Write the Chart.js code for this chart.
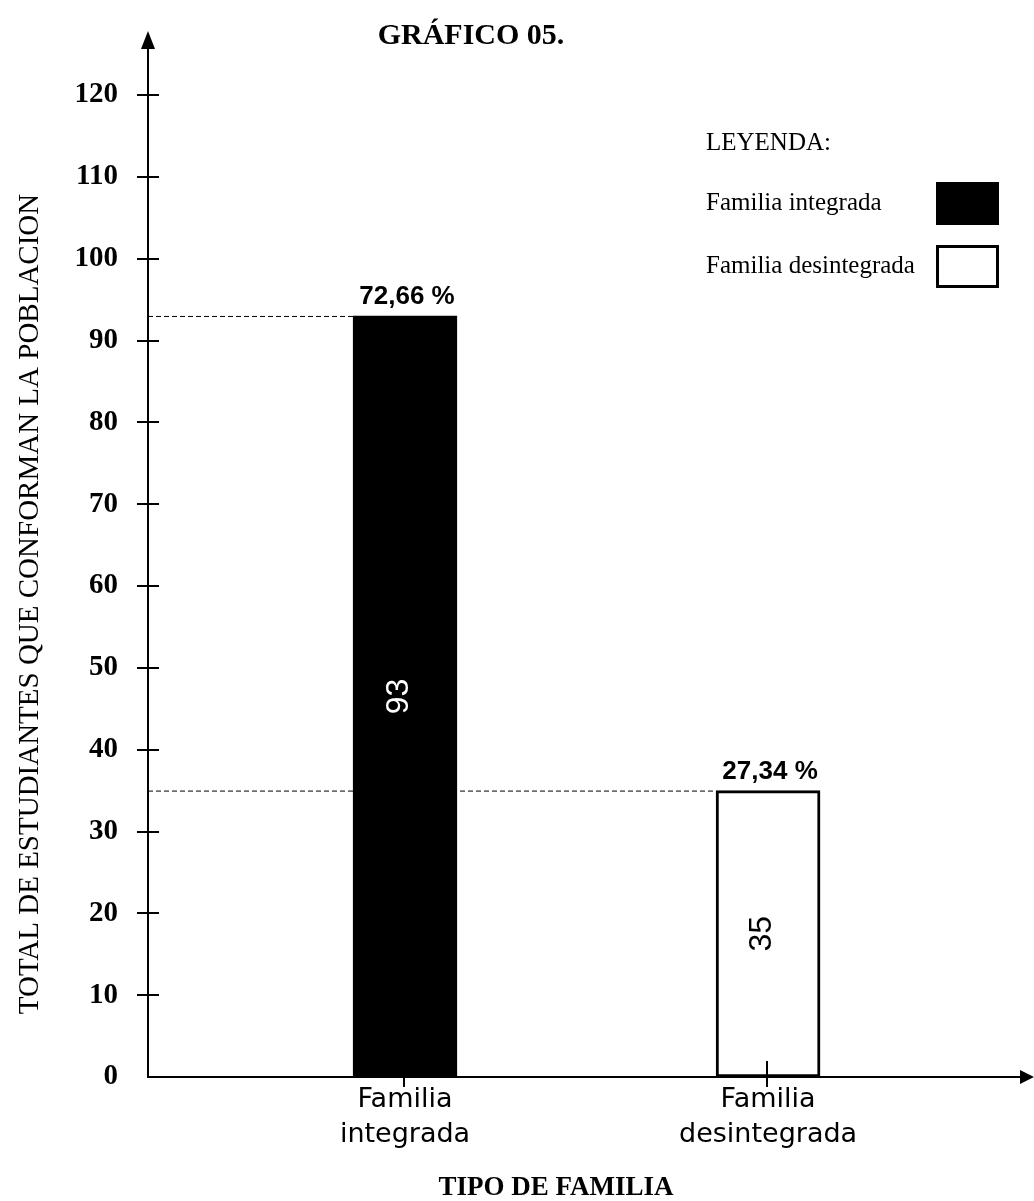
<!DOCTYPE html>
<html lang="es">
<head>
<meta charset="utf-8">
<title>Gráfico 05</title>
<script src="https://cdn.jsdelivr.net/npm/chart.js@4.4.1/dist/chart.umd.min.js"></script>
<style>
  html, body { margin: 0; padding: 0; background: #fff; }
  #wrap { width: 1034px; height: 1201px; }
</style>
</head>
<body>
<div id="wrap"><canvas id="grafico" width="1034" height="1201"></canvas></div>
<script>
/* ===== GRÁFICO 05 - tipo de familia ===== */
var categorias = ["Familia integrada", "Familia desintegrada"];
var estudiantes = [93, 35];
var porcentajes = ["72,66 %", "27,34 %"];
var colores = ["#000000", "#ffffff"];
var ticksY = [0, 10, 20, 30, 40, 50, 60, 70, 80, 90, 100, 110, 120];

var SERIF = "'Liberation Serif', 'Times New Roman', serif";
var SANS = "'Liberation Sans', Arial, sans-serif";

// dibujos extra: lineas punteadas, flechas, etiquetas, titulos y leyenda
var decor = {
  id: "decor",
  beforeDatasetsDraw: function (chart) {
    var ctx = chart.ctx, a = chart.chartArea;
    var bars = chart.getDatasetMeta(0).data;
    ctx.save();
    ctx.strokeStyle = "#000";
    ctx.lineWidth = 1;
    ctx.setLineDash([5, 3]);
    bars.forEach(function (b) {
      ctx.beginPath();
      ctx.moveTo(a.left, b.y + 0.5);
      ctx.lineTo(b.x - b.width / 2, b.y + 0.5);
      ctx.stroke();
    });
    ctx.restore();
  },
  afterDraw: function (chart) {
    var ctx = chart.ctx, a = chart.chartArea;
    var ys = chart.scales.y, xs = chart.scales.x;
    var bars = chart.getDatasetMeta(0).data;
    ctx.save();
    ctx.strokeStyle = "#000";
    ctx.fillStyle = "#000";
    ctx.lineWidth = 2;

    // eje Y hacia arriba con flecha
    ctx.beginPath();
    ctx.moveTo(a.left, a.top);
    ctx.lineTo(a.left, 46);
    ctx.stroke();
    ctx.beginPath();
    ctx.moveTo(a.left, 31);
    ctx.lineTo(a.left - 7, 49);
    ctx.lineTo(a.left + 7, 49);
    ctx.closePath();
    ctx.fill();

    // flecha del eje X
    ctx.beginPath();
    ctx.moveTo(a.right + 14, a.bottom);
    ctx.lineTo(a.right, a.bottom - 7);
    ctx.lineTo(a.right, a.bottom + 7);
    ctx.closePath();
    ctx.fill();

    // marcas del eje Y (cruzan el eje)
    ticksY.forEach(function (v) {
      if (v === 0) return;
      var py = Math.round(ys.getPixelForValue(v));
      ctx.beginPath();
      ctx.moveTo(a.left - 11, py);
      ctx.lineTo(a.left + 11, py);
      ctx.stroke();
    });

    // marcas del eje X en cada categoria
    categorias.forEach(function (c, i) {
      var px = Math.round(xs.getPixelForValue(i + 1)) - 1;
      ctx.beginPath();
      ctx.moveTo(px, a.bottom - 16);
      ctx.lineTo(px, a.bottom + 10);
      ctx.stroke();
    });

    // etiquetas de las barras
    bars.forEach(function (b, i) {
      ctx.font = "bold 26px " + SANS;
      ctx.fillStyle = "#000";
      ctx.textAlign = "center";
      ctx.textBaseline = "alphabetic";
      ctx.fillText(porcentajes[i], b.x + 2, b.y - 12);

      ctx.save();
      ctx.translate(b.x - 6, (b.y + b.base) / 2);
      ctx.rotate(-Math.PI / 2);
      ctx.font = "32px " + SANS;
      ctx.fillStyle = colores[i] === "#000000" ? "#ffffff" : "#000000";
      ctx.textBaseline = "middle";
      ctx.fillText(String(estudiantes[i]), 0, 0);
      ctx.restore();
    });

    // titulos
    ctx.fillStyle = "#000";
    ctx.textAlign = "center";
    ctx.textBaseline = "middle";
    ctx.font = "bold 30px " + SERIF;
    ctx.fillText("GRÁFICO 05.", 471, 36);
    ctx.font = "bold 27px " + SERIF;
    ctx.fillText("TIPO DE FAMILIA", 556, 1188);
    ctx.save();
    ctx.translate(30, 604);
    ctx.rotate(-Math.PI / 2);
    ctx.font = "29px " + SERIF;
    ctx.fillText("TOTAL DE ESTUDIANTES QUE CONFORMAN LA POBLACION", 0, 0);
    ctx.restore();

    // leyenda
    ctx.font = "25px " + SERIF;
    ctx.textAlign = "left";
    ctx.fillText("LEYENDA:", 706, 143);
    var filas = [203, 266];
    categorias.forEach(function (c, i) {
      ctx.fillStyle = "#000";
      ctx.fillText(c, 706, filas[i]);
      ctx.fillStyle = colores[i];
      ctx.fillRect(937, filas[i] - 20, 61, 41);
      ctx.lineWidth = 3;
      ctx.strokeStyle = "#000";
      ctx.strokeRect(937.5, filas[i] - 19.5, 60, 40);
    });
    ctx.restore();
  }
};

new Chart(document.getElementById("grafico"), {
  type: "bar",
  data: {
    datasets: [{
      data: estudiantes.map(function (v, i) { return { x: i + 1, y: v }; }),
      backgroundColor: colores,
      borderColor: "#000000",
      borderWidth: 3,
      borderSkipped: false,
      barThickness: 104
    }]
  },
  options: {
    responsive: false,
    animation: false,
    devicePixelRatio: 1,
    layout: { padding: { left: 14, right: 14, top: 95, bottom: 20 } },
    plugins: { legend: { display: false }, tooltip: { enabled: false } },
    scales: {
      x: {
        type: "linear",
        offset: false,
        bounds: "data",
        min: 0.292,
        max: 2.694,
        afterBuildTicks: function (s) {
          s.ticks = categorias.map(function (c, i) { return { value: i + 1 }; });
        },
        afterFit: function (s) { s.height = 104; },
        ticks: {
          color: "#000",
          padding: 5,
          autoSkip: false,
          maxRotation: 0,
          font: { family: "'Comic Sans MS', 'DejaVu Sans', sans-serif", size: 27, lineHeight: 1.3 },
          callback: function (v) {
            var c = categorias[v - 1];
            return c ? c.split(" ") : "";
          }
        },
        grid: { display: false, drawTicks: false, offset: false },
        border: { display: true, color: "#000", width: 2 },
        title: { display: false }
      },
      y: {
        min: 0,
        max: 120,
        bounds: "data",
        afterBuildTicks: function (s) {
          s.ticks = ticksY.map(function (v) { return { value: v }; });
        },
        afterFit: function (s) { s.width = 134; },
        ticks: {
          color: "#000",
          padding: 30,
          font: { family: SERIF, size: 29, weight: "bold" }
        },
        grid: { display: false, drawTicks: false },
        border: { display: true, color: "#000", width: 2 },
        title: { display: false }
      }
    }
  },
  plugins: [decor]
});
</script>
</body>
</html>
